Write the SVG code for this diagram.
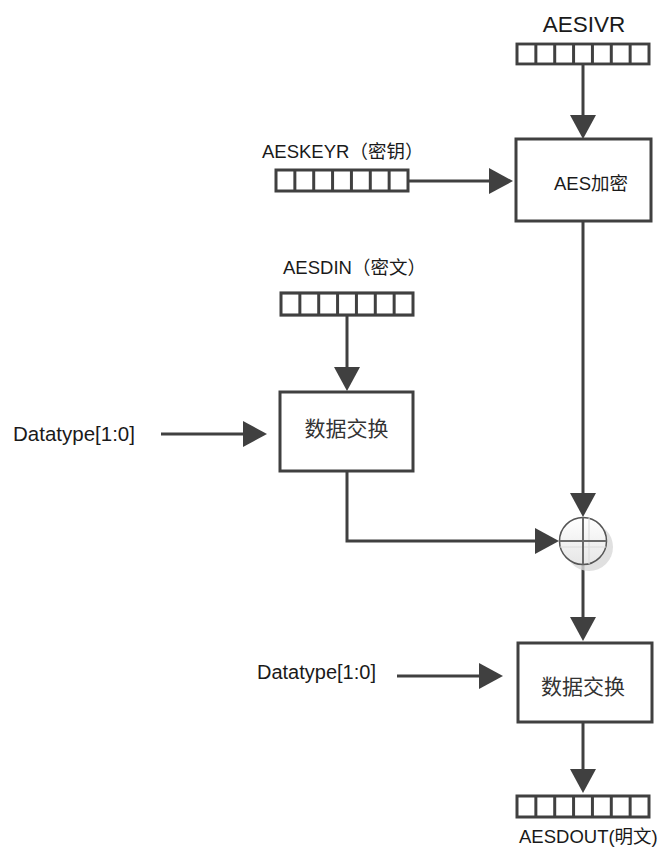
<svg xmlns="http://www.w3.org/2000/svg" width="662" height="850" viewBox="0 0 662 850">
<style>
.box{fill:#fff;stroke:#404040;stroke-width:3}
.reg{fill:#fff;stroke:#404040;stroke-width:3}
.cell{stroke:#404040;stroke-width:3}
.conn{fill:none;stroke:#404040;stroke-width:3}
.lat{font-family:"Liberation Sans","Noto Sans CJK SC",sans-serif;fill:#1a1a1a}
.cjk{font-family:"Noto Sans CJK SC",sans-serif;fill:#333}
</style>
<defs>
<marker id="ah" markerUnits="userSpaceOnUse" markerWidth="24" markerHeight="26" refX="0" refY="13" orient="auto">
<path d="M0,0 L24,13 L0,26 z" fill="#404040"/>
</marker>
<linearGradient id="cg" x1="0" y1="0" x2="0" y2="1">
<stop offset="0" stop-color="#ffffff"/>
<stop offset="1" stop-color="#e6e6e6"/>
</linearGradient>
<g id="reg7">
<rect class="reg" x="0" y="0" width="132" height="21"/>
<line class="cell" x1="18.86" y1="0" x2="18.86" y2="21"/>
<line class="cell" x1="37.71" y1="0" x2="37.71" y2="21"/>
<line class="cell" x1="56.57" y1="0" x2="56.57" y2="21"/>
<line class="cell" x1="75.43" y1="0" x2="75.43" y2="21"/>
<line class="cell" x1="94.29" y1="0" x2="94.29" y2="21"/>
<line class="cell" x1="113.14" y1="0" x2="113.14" y2="21"/>
</g>
</defs>

<g id="connectors">
<line class="conn" x1="583" y1="64" x2="583" y2="115" marker-end="url(#ah)"/>
<line class="conn" x1="409" y1="181" x2="489" y2="181" marker-end="url(#ah)"/>
<line class="conn" x1="583" y1="221" x2="583" y2="493" marker-end="url(#ah)"/>
<line class="conn" x1="347" y1="315" x2="347" y2="367" marker-end="url(#ah)"/>
<line class="conn" x1="161" y1="434" x2="243" y2="434" marker-end="url(#ah)"/>
<polyline class="conn" points="347,471 347,541 535,541" marker-end="url(#ah)"/>
<line class="conn" x1="583" y1="564" x2="583" y2="617" marker-end="url(#ah)"/>
<line class="conn" x1="397" y1="676" x2="479" y2="676" marker-end="url(#ah)"/>
<line class="conn" x1="583" y1="722" x2="583" y2="769" marker-end="url(#ah)"/>
</g>

<g id="aesivr">
<text class="lat" x="584" y="32" font-size="22.5" text-anchor="middle">AESIVR</text>
<use href="#reg7" transform="translate(517,44) scale(1,0.95)"/>
</g>

<g id="aes-encrypt">
<rect class="box" x="516" y="139" width="135" height="82"/>
<text class="lat" x="554" y="190" font-size="18.5">AES加密</text>
</g>

<g id="aeskeyr">
<text class="lat" x="262" y="158" font-size="18.5">AESKEYR（密钥）</text>
<use href="#reg7" transform="translate(276,170)"/>
</g>

<g id="aesdin">
<text class="lat" x="283" y="274" font-size="18.5">AESDIN（密文）</text>
<use href="#reg7" transform="translate(281,293) scale(1,1.05)"/>
</g>

<g id="datatype1">
<text class="lat" x="13" y="441" font-size="20.5">Datatype[1:0]</text>
</g>

<g id="swap1">
<rect class="box" x="280" y="392" width="133" height="79"/>
<text class="cjk" x="346.5" y="436" font-size="21" text-anchor="middle">数据交换</text>
</g>

<g id="xor">
<circle cx="589" cy="547" r="24" fill="#d8d8d8" opacity="0.8"/>
<circle cx="583" cy="541" r="23.5" fill="url(#cg)" stroke="#555" stroke-width="1.5"/>
<line x1="589" y1="518" x2="589" y2="564" stroke="#dcdcdc" stroke-width="1.2"/>
<line x1="560" y1="547" x2="606" y2="547" stroke="#dcdcdc" stroke-width="1.2"/>
<line x1="559.5" y1="541" x2="606.5" y2="541" stroke="#6a6a6a" stroke-width="2"/>
<line x1="583" y1="517.5" x2="583" y2="564.5" stroke="#6a6a6a" stroke-width="2"/>
</g>

<g id="datatype2">
<text class="lat" x="257" y="679" font-size="20">Datatype[1:0]</text>
</g>

<g id="swap2">
<rect class="box" x="518" y="643" width="134" height="79"/>
<text class="cjk" x="583" y="694" font-size="21" text-anchor="middle">数据交换</text>
</g>

<g id="aesdout">
<use href="#reg7" transform="translate(517,796)"/>
<text class="lat" x="519" y="843" font-size="18.5">AESDOUT(明文)</text>
</g>
</svg>
